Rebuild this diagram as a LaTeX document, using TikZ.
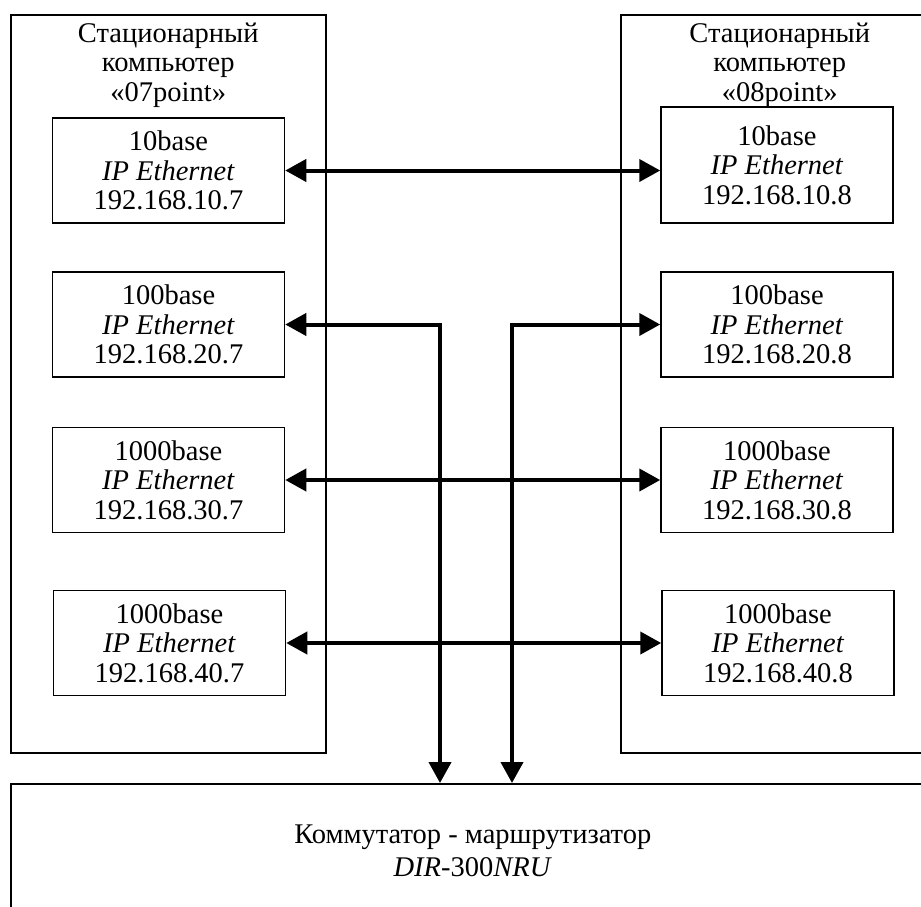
\documentclass[tikz,border=0pt]{standalone}
\usepackage{fontspec}
\setmainfont{Liberation Serif}
\usetikzlibrary{arrows.meta, positioning}
\tikzset{>={Triangle[length=21pt,width=22pt]},
    every node/.style={font=\fontsize{28.5}{29.5}\selectfont},
    host/.style={rectangle,draw,line width=1.5pt,anchor=north west,
        minimum width=315pt,minimum height=738pt,inner sep=0pt},
    iface/.style={rectangle,draw,line width=1.5pt,align=center,
        minimum width=232pt,minimum height=105pt,inner sep=0pt},
    caption/.style={align=center,anchor=north,inner sep=0pt},
    switch/.style={rectangle,draw,line width=1.5pt,align=center,
        minimum width=924pt,minimum height=134pt,inner sep=0pt,
        font=\fontsize{28.5}{32.6}\selectfont},
    link/.style={<->,line width=4pt}}

\begin{document}
\begin{tikzpicture}[x=1pt,y=-1pt]
\useasboundingbox (0,0) rectangle (921,906);
\clip (0,0) rectangle (921,906);

% computers
\node[host] (pc7) at (10,14) {};
\node[host,minimum width=318pt] (pc8) at (620,14) {};
\node[caption] (t7) at (pc7.north) [yshift=-8.5pt] {Стационарный\\компьютер\\«07point»};
\node[caption] (t8) at (pc8.north) [yshift=-8.5pt] {Стационарный\\компьютер\\«08point»};

% network cards
\node[iface] (l1) at (168.5,170.5) {10base\\\textit{IP Ethernet}\\192.168.10.7};
\node[iface] (l2) at (168.5,324.5) {100base\\\textit{IP Ethernet}\\192.168.20.7};
\node[iface] (l3) at (168.5,480)   {1000base\\\textit{IP Ethernet}\\192.168.30.7};
\node[iface] (l4) at (169.5,643)   {1000base\\\textit{IP Ethernet}\\192.168.40.7};
\node[iface,minimum height=116pt] (r1) at (777,165) {10base\\\textit{IP Ethernet}\\192.168.10.8};
\node[iface] (r2) at (777,324.5) {100base\\\textit{IP Ethernet}\\192.168.20.8};
\node[iface] (r3) at (777,480)   {1000base\\\textit{IP Ethernet}\\192.168.30.8};
\node[iface] (r4) at (778,643)   {1000base\\\textit{IP Ethernet}\\192.168.40.8};

% switch
\node[switch,anchor=north west] (sw) at (10,783) {Коммутатор - маршрутизатор\\\textit{DIR}-300\textit{NRU}};
\coordinate (p1) at (440,783);
\coordinate (p2) at (512,783);

\draw[link] (l1.east) -- (l1.east -| r1.west);
\draw[link] (l2.east) -| (p1);
\draw[link] (r2.west) -| (p2);
\draw[link] (l3.east) -- (r3.west);
\draw[link] (l4.east) -- (r4.west);
\end{tikzpicture}
\end{document}
